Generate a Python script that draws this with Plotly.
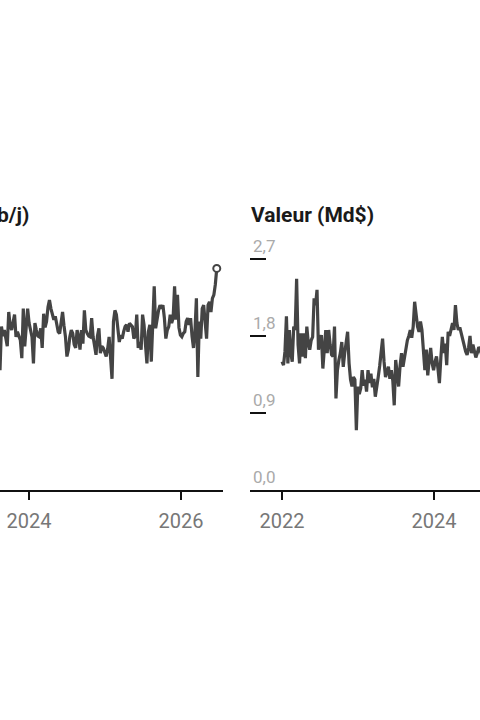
import pandas as pd
import plotly.graph_objects as go

# ---- Data ----
left_title = "Volume (Mb/j)"
right_title = "Valeur (Md$)"

left_start = "2023-07-24"   # weekly series
left_values = [
    1.75, 1.62, 1.85, 1.40, 1.91, 1.80, 1.87, 1.75, 1.68, 2.08,
    1.92, 1.87, 1.98, 2.05, 1.79, 1.85, 1.80, 1.75, 1.54, 2.12,
    1.68, 1.90, 2.12, 1.95, 1.85, 1.79, 1.48, 1.95, 1.87, 1.80,
    1.79, 1.89, 1.66, 2.06, 1.90, 1.97, 2.14, 2.22, 2.12, 2.06,
    1.99, 2.03, 1.91, 1.85, 1.83, 1.95, 2.08, 1.92, 1.79, 1.56,
    1.64, 1.79, 1.87, 1.83, 1.70, 1.66, 1.87, 1.79, 1.64, 1.87,
    1.71, 2.10, 1.87, 1.83, 1.80, 1.79, 2.01, 1.79, 1.69, 1.58,
    1.80, 1.89, 1.60, 1.68, 1.66, 1.62, 1.56, 1.65, 1.79, 1.55,
    1.30, 1.97, 2.10, 2.05, 1.85, 1.73, 1.81, 1.77, 1.85, 1.91,
    1.93, 1.85, 1.95, 1.93, 1.91, 1.77, 1.80, 2.05, 1.66, 1.73,
    1.64, 2.05, 1.93, 1.70, 1.48, 1.85, 1.93, 1.50, 1.97, 2.38,
    1.89, 2.01, 2.10, 2.16, 2.12, 2.16, 2.01, 1.77, 1.87, 1.91,
    2.05, 1.95, 2.01, 2.38, 1.99, 2.28, 1.90, 1.81, 1.79, 1.83,
    1.85, 1.97, 2.01, 1.93, 2.01, 1.80, 1.66, 1.85, 2.24, 1.32,
    1.97, 1.77, 2.12, 2.16, 1.95, 1.77, 2.16, 2.20, 2.08, 2.24,
    2.28, 2.40, 2.59,
]

right_start = "2022-01-01"  # weekly series
right_values = [
    1.50, 1.46, 1.62, 2.03, 1.48, 1.87, 1.60, 1.50, 1.91, 1.87,
    2.47, 1.70, 1.48, 1.83, 1.56, 1.83, 1.54, 1.91, 1.72, 1.64,
    1.75, 1.79, 2.24, 2.16, 2.34, 1.64, 1.74, 1.81, 1.42, 1.67,
    1.87, 1.60, 1.87, 1.70, 1.58, 1.56, 1.91, 1.07, 1.40, 1.52,
    1.60, 1.73, 1.44, 1.60, 1.70, 1.85, 1.48, 1.29, 1.21, 1.32,
    1.29, 0.70, 1.21, 1.12, 1.19, 1.40, 1.22, 1.29, 1.15, 1.40,
    1.25, 1.36, 1.20, 1.30, 1.09, 1.24, 1.32, 1.45, 1.60, 1.77,
    1.50, 1.32, 1.38, 1.44, 1.30, 1.40, 1.28, 0.99, 1.52, 1.36,
    1.21, 1.45, 1.60, 1.44, 1.55, 1.68, 1.75, 1.80, 1.87, 1.78,
    1.91, 2.20, 2.02, 1.91, 1.85, 1.97, 1.87, 1.60, 1.40, 1.64,
    1.34, 1.52, 1.66, 1.48, 1.40, 1.50, 1.56, 1.42, 1.25, 1.55,
    1.79, 1.60, 1.71, 1.46, 1.85, 1.80, 1.88, 1.95, 1.87, 2.16,
    1.95, 1.87, 1.90, 1.83, 1.75, 1.68, 1.62, 1.58, 1.66, 1.80,
    1.60, 1.70, 1.62, 1.55, 1.60, 1.67, 1.64, 1.58, 1.66, 1.60,
    1.62,
]

y_ticks = [0.0, 0.9, 1.8, 2.7]
y_range = [0, 3.0]
left_xrange = ["2023-08-14", "2026-07-22"]
right_xrange = ["2021-07-31", "2024-08-09"]

left_dates = pd.date_range(left_start, periods=len(left_values), freq="7D")
right_dates = pd.date_range(right_start, periods=len(right_values), freq="7D")

LINE = "#444444"
W, H = 480, 720
PX_PER_UNIT = 77 / 0.9
Y0 = 490  # pixel row of the zero line
ytop_px = Y0 - y_range[1] * PX_PER_UNIT

fig = go.Figure()
fig.add_trace(go.Scatter(x=left_dates, y=left_values, mode="lines",
                         line=dict(color=LINE, width=3.2), xaxis="x", yaxis="y",
                         hoverinfo="skip", showlegend=False))
fig.add_trace(go.Scatter(x=[left_dates[-1]], y=[left_values[-1]], mode="markers",
                         marker=dict(size=7, color="white", line=dict(color=LINE, width=2)),
                         xaxis="x", yaxis="y", hoverinfo="skip", showlegend=False))
fig.add_trace(go.Scatter(x=right_dates, y=right_values, mode="lines",
                         line=dict(color=LINE, width=3.2), xaxis="x2", yaxis="y2",
                         hoverinfo="skip", showlegend=False))

ydom = [(H - Y0) / H, (H - ytop_px) / H]
xaxis_common = dict(
    showline=True, linecolor="#111111", linewidth=1.5,
    ticks="outside", ticklen=8, tickwidth=1.5, tickcolor="#111111",
    dtick="M24", tick0="2022-01-01", tickformat="%Y",
    showgrid=False, zeroline=False,
    tickfont=dict(family="Roboto", size=20, color="#777777"),
    ticklabelstandoff=4, fixedrange=True,
)
fig.update_layout(
    width=W, height=H,
    margin=dict(l=0, r=0, t=0, b=0),
    paper_bgcolor="white", plot_bgcolor="white",
    separators=", ",
    font=dict(family="Roboto"),
    xaxis=dict(domain=[0, 223 / W], range=left_xrange, anchor="y", **xaxis_common),
    yaxis=dict(domain=ydom, range=y_range, anchor="x", showticklabels=False,
               ticks="", showgrid=False, zeroline=False, showline=False),
    xaxis2=dict(domain=[250 / W, 1], range=right_xrange, anchor="y2", **xaxis_common),
    yaxis2=dict(domain=ydom, range=y_range, anchor="x2",
                tickvals=y_ticks, tickformat=".1f",
                ticks="inside", ticklen=16, tickwidth=1.5, tickcolor="#111111",
                ticklabelposition="inside top",
                tickfont=dict(family="Roboto", size=17, color="#aaaaaa"),
                showgrid=False, zeroline=False, showline=False),
    annotations=[
        dict(text="<b>" + left_title + "</b>", xref="paper", yref="paper",
             x=31 / W, y=(H - 215) / H, xanchor="right", yanchor="middle",
             showarrow=False, font=dict(family="Roboto", size=21, color="#1a1a1a")),
        dict(text="<b>" + right_title + "</b>", xref="paper", yref="paper",
             x=249 / W, y=(H - 215) / H, xanchor="left", yanchor="middle",
             showarrow=False, font=dict(family="Roboto", size=21, color="#1a1a1a")),
    ],
)

fig.write_html("out.html", config={"displayModeBar": False},
               post_script="document.body.style.margin='0';document.body.style.overflow='hidden';")
